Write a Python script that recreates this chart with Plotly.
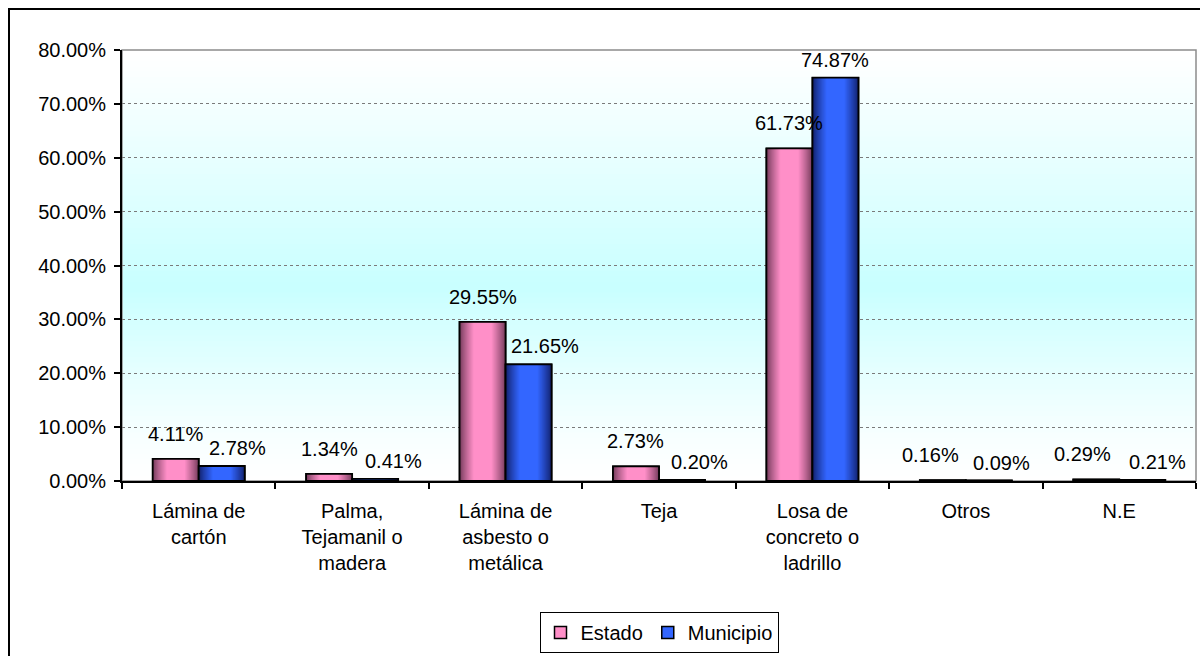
import plotly.graph_objects as go

categories = ["Lámina de<br>cartón", "Palma,<br>Tejamanil o<br>madera", "Lámina de<br>asbesto o<br>metálica",
              "Teja", "Losa de<br>concreto o<br>ladrillo", "Otros", "N.E"]
estado = [4.11, 1.34, 29.55, 2.73, 61.73, 0.16, 0.29]
municipio = [2.78, 0.41, 21.65, 0.20, 74.87, 0.09, 0.21]
series_names = ["Estado", "Municipio"]
y_ticks = [0, 10, 20, 30, 40, 50, 60, 70, 80]

W, H = 1200, 656
ML, MR, MT, MB = 122, 4, 50, 175
PW = W - ML - MR
PH = H - MT - MB
FONT = "Liberation Sans, Arial, sans-serif"
FS = 20

BW = 0.3  # bar width in category units
series_style = [
    # (values, name, offset, edge colour, centre colour, legend colour, label dx, label dy)
    (estado, series_names[0], -BW, (118, 60, 92), (255, 143, 200), "#ff8fc8",
     [0, 0, 0, 0, 0, -12, -14], 12),
    (municipio, series_names[1], 0.0, (18, 34, 110), (51, 102, 255), "#3366ff",
     [16, 18, 16, 17, 0, 13, 15], 5),
]

fig = go.Figure()
LAYERS = 14
for vals, name, off, edge, centre, legcol, _, _ in series_style:
    # legend / base bar
    fig.add_trace(go.Bar(x=categories, y=vals, name=name, width=BW, offset=off,
                         marker=dict(color=legcol, line=dict(color="black", width=1.5)),
                         hoverinfo="skip"))
    # horizontal shading (nested narrower layers, darker at the edges)
    for k in range(LAYERS):
        wf = 1 - 0.6 * k / (LAYERS - 1)
        t = (k / (LAYERS - 1)) ** 0.85
        col = tuple(int(round(e + (c - e) * t)) for e, c in zip(edge, centre))
        w = BW * wf
        fig.add_trace(go.Bar(x=categories, y=vals, width=w, offset=off + (BW - w) / 2,
                             marker=dict(color=f"rgb{col}", line=dict(width=0)),
                             showlegend=False, hoverinfo="skip"))
    # outline on top
    fig.add_trace(go.Bar(x=categories, y=vals, width=BW, offset=off,
                         marker=dict(color="rgba(0,0,0,0)", line=dict(color="black", width=1.8)),
                         showlegend=False, hoverinfo="skip"))

# data labels
cat_px = PW / len(categories)
annotations = []
for vals, name, off, edge, centre, legcol, dxs, dy in series_style:
    cshift = (off + BW / 2) * cat_px
    for c, v, dx in zip(categories, vals, dxs):
        annotations.append(dict(x=c, y=v, xref="x", yref="y", text=f"{v:.2f}%",
                                showarrow=False, xshift=cshift + dx, yshift=dy,
                                yanchor="bottom", font=dict(family=FONT, size=FS, color="black")))

# gradient background stripes
shapes = []
N = 80
for i in range(N):
    f0, f1 = i / N, (i + 1) / N
    fm = (f0 + f1) / 2
    peak = 0.45
    if fm <= peak:
        t = (fm / peak) ** 1.3
    else:
        t = ((1 - fm) / (1 - peak)) ** 1.1
    r = int(round(255 - (255 - 200) * t))
    shapes.append(dict(type="rect", xref="paper", yref="paper", x0=0, x1=1, y0=f0, y1=f1 + 0.002,
                       fillcolor=f"rgb({r},255,255)", line=dict(width=0), layer="below"))
# plot area border
shapes.append(dict(type="rect", xref="paper", yref="paper", x0=0, x1=1, y0=0, y1=1,
                   line=dict(color="#8c8c8c", width=1.5), layer="below"))
# chart area border
shapes.append(dict(type="rect", xref="paper", yref="paper",
                   x0=(9 - ML) / PW, x1=(1215 - ML) / PW,
                   y0=(MT + PH - 665) / PH, y1=(MT + PH - 9) / PH,
                   line=dict(color="black", width=2), fillcolor="rgba(0,0,0,0)", layer="above"))

fig.update_layout(
    width=W, height=H,
    margin=dict(l=ML, r=MR, t=MT, b=MB, autoexpand=False),
    paper_bgcolor="white", plot_bgcolor="rgba(0,0,0,0)",
    barmode="group", bargap=0.4, bargroupgap=0,
    font=dict(family=FONT, size=FS, color="black"),
    showlegend=True,
    legend=dict(orientation="h", x=0.5, xanchor="center", y=(MT + PH - 612) / PH, yanchor="top",
                bgcolor="white", bordercolor="black", borderwidth=1,
                font=dict(family=FONT, size=FS, color="black"), itemwidth=30, tracegroupgap=0),
    annotations=annotations,
    shapes=shapes,
    xaxis=dict(type="category", showline=True, linecolor="black", linewidth=2,
               ticks="outside", tickson="boundaries", ticklen=6, tickwidth=2, tickcolor="black",
               showgrid=False, ticklabelstandoff=11,
               tickfont=dict(family=FONT, size=FS, color="black")),
    yaxis=dict(range=[0, 80], tickvals=y_ticks, ticktext=[f"{v:.2f}%" for v in y_ticks],
               showline=True, linecolor="black", linewidth=2,
               ticks="outside", ticklen=6, tickwidth=2, tickcolor="black",
               showgrid=True, gridcolor="#7a7a7a", gridwidth=1, griddash="dot",
               zeroline=False, ticklabelstandoff=4,
               tickfont=dict(family=FONT, size=FS, color="black")),
)

fig.write_html("out.html", config={"displayModeBar": False},
               post_script="document.body.style.margin='0';")
